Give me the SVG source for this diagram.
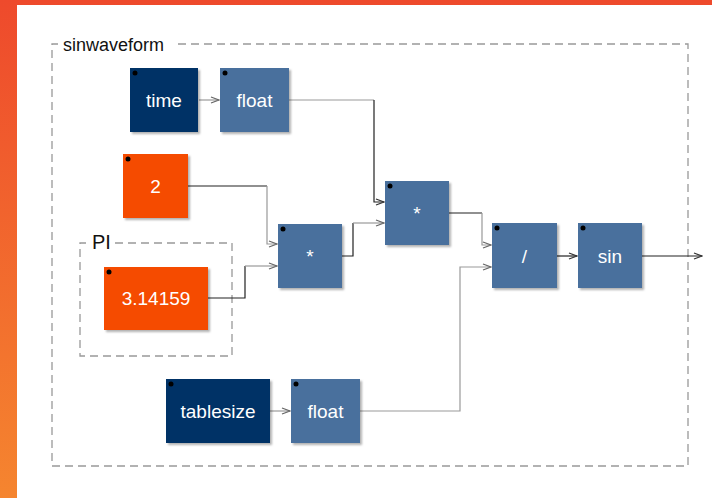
<svg xmlns="http://www.w3.org/2000/svg" width="712" height="498" viewBox="0 0 712 498">
<defs>
<linearGradient id="bg" x1="0" y1="0" x2="0" y2="1">
<stop offset="0" stop-color="#EE4A2C"/>
<stop offset="1" stop-color="#F5852F"/>
</linearGradient>
<filter id="sh" x="-10%" y="-10%" width="130%" height="130%">
<feDropShadow dx="2" dy="2" stdDeviation="1" flood-color="#000" flood-opacity="0.3"/>
</filter>
<marker id="ah" viewBox="0 0 10 10" refX="9" refY="5" markerWidth="10" markerHeight="10" markerUnits="userSpaceOnUse" orient="auto">
<path d="M1,2 L9,5 L1,8" fill="none" stroke="#666" stroke-width="1.3"/>
</marker>
<marker id="ahd" viewBox="0 0 10 10" refX="9" refY="5" markerWidth="10" markerHeight="10" markerUnits="userSpaceOnUse" orient="auto">
<path d="M1,2 L9,5 L1,8" fill="none" stroke="#333" stroke-width="1.3"/>
</marker>
</defs>
<style>
.frame{fill:none;stroke:#999;stroke-width:1.3;stroke-dasharray:8,5}
.dark{fill:#003366;filter:url(#sh)}
.blue{fill:#4A6F9D;filter:url(#sh)}
.ora{fill:#F54B00;filter:url(#sh)}
.dot{fill:#000}
.lbl{font-family:"Liberation Sans",Arial,sans-serif;font-size:19px;fill:#fff;text-anchor:middle}
.cap{font-family:"Liberation Sans",Arial,sans-serif;font-size:18px;fill:#111}
.k{fill:none;stroke:#222;stroke-width:1.2}
.g{fill:none;stroke:#999;stroke-width:1.2}
</style>
<rect x="0" y="0" width="712" height="498" fill="url(#bg)"/>
<rect x="17" y="5" width="695" height="493" fill="#fff"/>

<g id="sinwaveform">
<path class="frame" d="M178,44 H688 V466 H52 V44 H58"/>
<text class="cap" x="63" y="51">sinwaveform</text>
</g>
<g id="PI">
<path class="frame" d="M115,243 H232 V356 H80 V243 H86"/>
<text class="cap" x="92" y="249" style="font-size:20px">PI</text>
</g>

<g id="connectors">
<line class="g" x1="199" y1="100" x2="219" y2="100" marker-end="url(#ah)"/>
<path class="g" d="M289,100 H374"/>
<path class="k" d="M374,100 V202 H384" marker-end="url(#ahd)"/>
<path class="k" d="M188,186 H267"/>
<path class="g" d="M267,186 V244 H277" marker-end="url(#ah)"/>
<path class="k" d="M208,298 H245 V266"/>
<path class="g" d="M245,266 H277" marker-end="url(#ah)"/>
<path class="k" d="M342,256 H353 V223"/>
<path class="g" d="M353,223 H384" marker-end="url(#ah)"/>
<path class="k" d="M449,213 H482"/>
<path class="g" d="M482,213 V245 H491" marker-end="url(#ah)"/>
<line class="g" x1="270" y1="411" x2="290" y2="411" marker-end="url(#ah)"/>
<path class="g" d="M360,411 H460 V267 H491" marker-end="url(#ah)"/>
<line class="k" x1="557" y1="256" x2="577" y2="256" marker-end="url(#ahd)"/>
<line class="k" x1="642" y1="256" x2="702" y2="256" marker-end="url(#ahd)"/>
</g>

<g id="time"><rect class="dark" x="130" y="68" width="68" height="64"/><circle class="dot" cx="135" cy="73" r="2.5"/><text class="lbl" x="164" y="107">time</text></g>
<g id="float1"><rect class="blue" x="220" y="68" width="69" height="64"/><circle class="dot" cx="225" cy="73" r="2.5"/><text class="lbl" x="254.5" y="107">float</text></g>
<g id="two"><rect class="ora" x="123" y="154" width="65" height="64"/><circle class="dot" cx="128" cy="159" r="2.5"/><text class="lbl" x="155.5" y="193">2</text></g>
<g id="pi-value"><rect class="ora" x="104" y="267" width="104" height="63"/><circle class="dot" cx="109" cy="272" r="2.5"/><text class="lbl" x="156" y="305">3.14159</text></g>
<g id="mul1"><rect class="blue" x="278" y="224" width="64" height="64"/><circle class="dot" cx="283" cy="229" r="2.5"/><text class="lbl" x="310" y="263">*</text></g>
<g id="tablesize"><rect class="dark" x="166" y="379" width="104" height="64"/><circle class="dot" cx="171" cy="384" r="2.5"/><text class="lbl" x="218" y="418">tablesize</text></g>
<g id="float2"><rect class="blue" x="291" y="379" width="69" height="64"/><circle class="dot" cx="296" cy="384" r="2.5"/><text class="lbl" x="325.5" y="418">float</text></g>
<g id="mul2"><rect class="blue" x="385" y="181" width="64" height="64"/><circle class="dot" cx="390" cy="186" r="2.5"/><text class="lbl" x="417" y="220">*</text></g>
<g id="div"><rect class="blue" x="492" y="223" width="65" height="65"/><circle class="dot" cx="497" cy="228" r="2.5"/><text class="lbl" x="524.5" y="263">/</text></g>
<g id="sin"><rect class="blue" x="578" y="223" width="64" height="65"/><circle class="dot" cx="583" cy="228" r="2.5"/><text class="lbl" x="610" y="263">sin</text></g>
</svg>
